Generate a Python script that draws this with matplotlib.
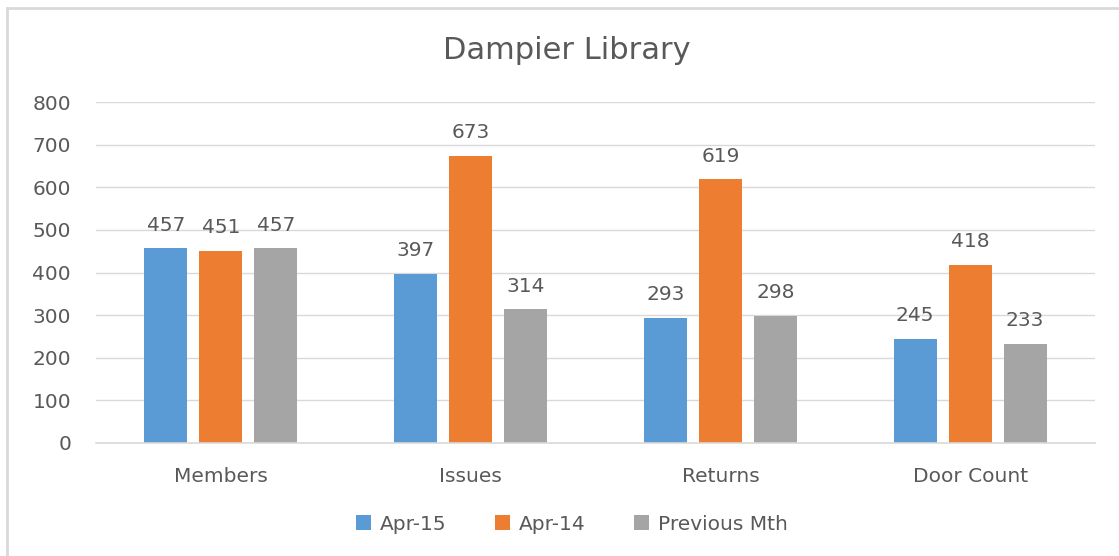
import numpy as np
import matplotlib
matplotlib.use("Agg")
import matplotlib.pyplot as plt
from matplotlib.patches import Rectangle

# chart data
categories = ["Members", "Issues", "Returns", "Door Count"]
series_names = ["Apr-15", "Apr-14", "Previous Mth"]
apr15 = [457, 397, 293, 245]
apr14 = [451, 673, 619, 418]
prev_mth = [457, 314, 298, 233]

colors = ["#5B9BD5", "#ED7D31", "#A5A5A5"]
text_color = "#595959"

plt.rcParams["font.family"] = ["DejaVu Sans"]

W, H = 1119, 556
fig = plt.figure(figsize=(W / 100, H / 100), dpi=100)

# light outer border of the chart area
fig.patches.append(Rectangle((7 / W, -0.05), 1.2, 1 - 8 / H + 0.05,
                             transform=fig.transFigure, fill=False,
                             edgecolor="#D9D9D9", linewidth=2))

ax = fig.add_axes([96 / W, 1 - 443 / H, (1095 - 96) / W, (443 - 102) / H])

x = np.arange(len(categories))
width = 0.172
step = 0.22
for i, (vals, name) in enumerate(zip([apr15, apr14, prev_mth], series_names)):
    pos = x + (i - 1) * step
    bars = ax.bar(pos, vals, width, color=colors[i], label=name, zorder=3)
    for b, v in zip(bars, vals):
        ax.text(b.get_x() + b.get_width() / 2, v + 32, str(v),
                ha="center", va="bottom", fontsize=14.5, color=text_color)

ax.set_xlim(-0.5, len(categories) - 0.5)
ax.set_ylim(0, 800)
ax.set_yticks(range(0, 801, 100))
ax.set_xticks(x)
ax.set_xticklabels(categories)
ax.tick_params(axis="both", length=0, labelsize=14.5, colors=text_color)
ax.tick_params(axis="y", pad=18)
ax.tick_params(axis="x", pad=17)
ax.grid(axis="y", color="#D9D9D9", linewidth=1, zorder=0)
ax.axhline(0, color="#D9D9D9", linewidth=1.2, zorder=4, clip_on=False)
for s in ax.spines.values():
    s.set_visible(False)

fig.text(567 / W, 1 - 59 / H, "Dampier Library", ha="center", va="baseline",
         fontsize=22, color=text_color)

fig.legend(loc="center", bbox_to_anchor=(572 / W, 1 - 524 / H), ncol=3,
           frameon=False, fontsize=14.5, labelcolor=text_color,
           handlelength=0.75, handleheight=0.75, handletextpad=0.45,
           columnspacing=2.4)

fig.savefig("out.png", dpi=100, facecolor="white")
